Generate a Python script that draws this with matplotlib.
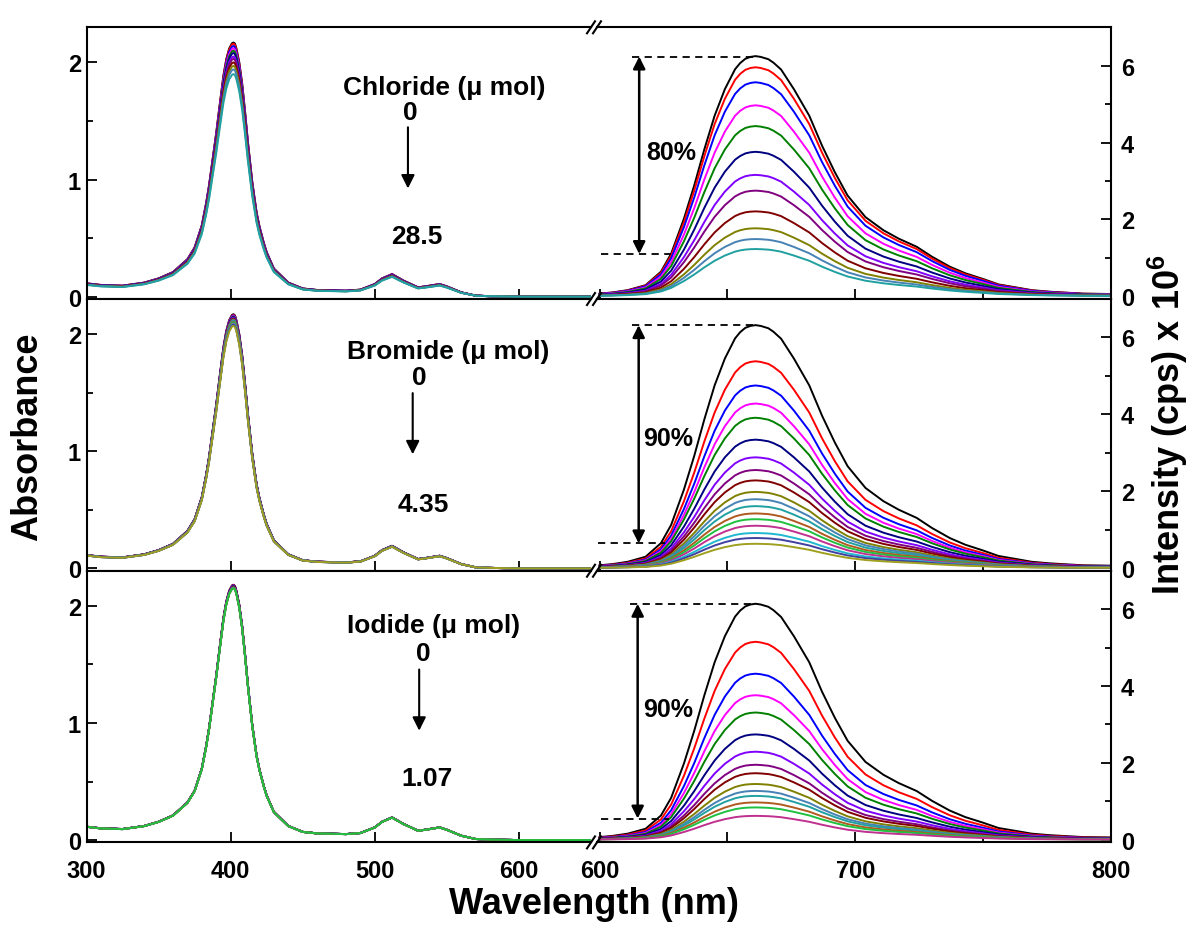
import matplotlib
matplotlib.use('Agg')
import matplotlib.pyplot as plt
import numpy as np
from matplotlib.ticker import MultipleLocator
from matplotlib.lines import Line2D

plt.rcParams['font.family'] = 'Liberation Sans'
plt.rcParams['font.weight'] = 'bold'
plt.rcParams['mathtext.fontset'] = 'custom'
plt.rcParams['mathtext.bf'] = 'Liberation Sans:bold'
plt.rcParams['mathtext.rm'] = 'Liberation Sans:bold'

# Absorptionsspektrum (Referenzkurve)
abs_wl = [300, 310, 325, 340, 350, 360, 370, 375, 380, 383, 385, 388, 390, 392, 395,
          397, 399, 401, 402, 403, 404, 406, 408, 410, 412, 415, 418, 420, 423, 425,
          430, 440, 450, 460, 480, 490, 500, 505, 512, 520, 530, 535, 545, 550, 560,
          570, 580, 600, 650]
abs_ref = [0.114, 0.10, 0.094, 0.12, 0.156, 0.21, 0.32, 0.42, 0.61, 0.80, 0.95, 1.22, 1.40, 1.60, 1.89,
           2.03, 2.12, 2.165, 2.17, 2.16, 2.12, 2.00, 1.82, 1.58, 1.32, 0.98, 0.72, 0.60, 0.46, 0.38,
           0.24, 0.12, 0.07, 0.057, 0.051, 0.06, 0.108, 0.156, 0.193, 0.137, 0.08, 0.088, 0.108, 0.088, 0.037,
           0.009, 0.004, 0.0, 0.0]

# Emissionsspektrum (schwarze Kurve Chlorid)
em_wl = [600, 605, 611, 618, 624, 628, 633, 637, 641, 645, 649, 653, 655, 657, 659, 661,
         663, 666, 668, 671, 676, 682, 687, 692, 697, 704, 711, 717, 724, 730, 737, 743,
         750, 756, 763, 769, 776, 789, 800]
em_ref = [0.07, 0.10, 0.16, 0.29, 0.64, 1.11, 2.02, 2.88, 3.83, 4.70, 5.39, 5.91, 6.07, 6.18, 6.23, 6.25,
          6.23, 6.17, 6.08, 5.90, 5.39, 4.70, 3.92, 3.23, 2.62, 2.06, 1.72, 1.50, 1.29, 1.03, 0.77, 0.60,
          0.45, 0.31, 0.23, 0.16, 0.12, 0.07, 0.06]

# Soret-Maxima je Zugabe
cl_abs = [2.17, 2.16, 2.14, 2.12, 2.10, 2.08, 2.05, 2.03, 2.00, 1.97, 1.94, 1.90]
br_abs = [2.17, 2.165, 2.16, 2.155, 2.15, 2.145, 2.14, 2.135, 2.13, 2.125, 2.12, 2.11,
          2.105, 2.10, 2.09, 2.085, 2.08, 2.07]
io_abs = [2.18, 2.178, 2.175, 2.172, 2.17, 2.168, 2.165, 2.162, 2.16, 2.158, 2.155, 2.153, 2.15, 2.15]

# Emissionsmaxima je Zugabe (x 10^6 cps)
cl_em = [6.25, 5.96, 5.57, 4.97, 4.43, 3.76, 3.16, 2.75, 2.21, 1.77, 1.49, 1.23]
br_em = [6.32, 5.38, 4.75, 4.28, 3.91, 3.34, 2.88, 2.55, 2.28, 1.98, 1.79, 1.61,
         1.42, 1.27, 1.10, 0.91, 0.78, 0.63]
io_em = [6.14, 5.15, 4.32, 3.76, 3.31, 2.74, 2.29, 1.95, 1.73, 1.45, 1.27, 1.14, 0.97, 0.84, 0.62]

farben = ['#000000', '#FF0000', '#0000FF', '#FF00FF', '#008000', '#000080', '#8000FF',
          '#800080', '#800000', '#808000', '#4682B4', '#20A0A0', '#B05A20', '#20C040',
          '#C0308F', '#20B8D0', '#4040A0', '#A0A020']

titel = ['Chloride (\u03bc mol)', 'Bromide (\u03bc mol)', 'Iodide (\u03bc mol)']
endwert = ['28.5', '4.35', '1.07']
prozent = ['80%', '90%', '90%']

W, H = 1189, 928
fig = plt.figure(figsize=(W / 100, H / 100), dpi=100)


def rect(x0, y0, x1, y1):
    return [x0 / W, 1 - y1 / H, (x1 - x0) / W, (y1 - y0) / H]


def plotPanel(i, top, abs_peaks, em_peaks, tx, zx, px, ex, pfeil, bottom):
    h = 271.7
    axL = fig.add_axes(rect(86.5, top, 591, top + h))
    axR = fig.add_axes(rect(597, top, 1111, top + h))

    # Absorption
    base = np.array(abs_ref)
    for k, p in enumerate(abs_peaks):
        axL.plot(abs_wl, base * p / 2.17, color=farben[k], lw=1.4)
    axL.set_xlim(300, 650)
    axL.set_ylim(-0.02, 2.30)
    axL.xaxis.set_major_locator(MultipleLocator(100))
    axL.yaxis.set_major_locator(MultipleLocator(1))
    axL.yaxis.set_minor_locator(MultipleLocator(0.5))
    axL.spines['right'].set_visible(False)
    axL.tick_params(which='both', direction='in', top=False, right=False, width=1.3,
                    labelsize=17, labelbottom=bottom)
    axL.tick_params(axis='x', length=7, pad=12)
    axL.tick_params(axis='y', which='major', length=7, pad=4)
    axL.tick_params(axis='y', which='minor', length=4)

    axL.text(tx[0], tx[1], titel[i], fontsize=19, fontweight='bold', ha='center', va='center')
    axL.text(zx[0], zx[1], '0', fontsize=19, fontweight='bold', ha='center', va='center')
    axL.annotate('', xy=(px[0], px[2]), xytext=(px[0], px[1]),
                 arrowprops=dict(arrowstyle='-|>', color='black', lw=1.5, mutation_scale=20))
    axL.text(ex[0], ex[1], endwert[i], fontsize=19, fontweight='bold', ha='center', va='center')

    # Emission
    shape = np.array(em_ref) / max(em_ref)
    for k, p in enumerate(em_peaks):
        axR.plot(em_wl, shape * p, color=farben[k], lw=1.4)
    axR.set_xlim(599, 800)
    axR.set_ylim(-0.07, 7.0)
    axR.xaxis.set_major_locator(MultipleLocator(100))
    axR.xaxis.set_minor_locator(MultipleLocator(50))
    axR.yaxis.set_major_locator(MultipleLocator(2))
    axR.yaxis.set_minor_locator(MultipleLocator(1))
    axR.yaxis.tick_right()
    axR.spines['left'].set_visible(False)
    axR.tick_params(which='both', direction='in', top=False, left=False, width=1.3,
                    labelsize=17, labelbottom=bottom)
    axR.tick_params(axis='x', which='both', length=7, pad=12)
    axR.tick_params(axis='y', which='major', length=7, pad=7)
    axR.tick_params(axis='y', which='minor', length=4)

    # Loeschung markieren
    xa, y_hi, y_lo, d_hi, d_lo, xp, yp = pfeil
    axR.plot(d_hi, [y_hi, y_hi], color='black', lw=1.3, ls=(0, (4, 3)), clip_on=False)
    axR.plot(d_lo, [y_lo, y_lo], color='black', lw=1.3, ls=(0, (4, 3)), clip_on=False)
    axR.annotate('', xy=(xa, y_lo), xytext=(xa, y_hi),
                 arrowprops=dict(arrowstyle='<|-|>', color='black', lw=1.8,
                                 mutation_scale=18, shrinkA=0, shrinkB=0))
    axR.text(xp, yp, prozent[i], fontsize=18, fontweight='bold', ha='left', va='center')

    for ax in (axL, axR):
        for s in ax.spines.values():
            s.set_linewidth(1.5)
    return axL, axR


plotPanel(0, 28.3, cl_abs, cl_em, (548, 1.79), (524.5, 1.58), (523, 1.47, 0.90), (529.4, 0.52),
          (615.5, 6.24, 1.10, [612.5, 661], [600.5, 628], 618.2, 3.75), False)
plotPanel(1, 300.0, br_abs, br_em, (551, 1.86), (531, 1.63), (526.3, 1.52, 0.95), (533.6, 0.55),
          (615.3, 6.32, 0.64, [612.5, 661], [599.5, 625.6], 617.1, 3.39), False)
plotPanel(2, 571.7, io_abs, io_em, (541, 1.84), (533.6, 1.60), (530.8, 1.48, 0.91), (536.4, 0.53),
          (614.9, 6.14, 0.55, [612, 661], [600.5, 627], 617.1, 3.39), True)

# Achsenbruch-Markierungen
for yb in [28.3, 300.0, 571.7, 843.4]:
    for xb in [591, 597]:
        fig.add_artist(Line2D([(xb - 4) / W, (xb + 4) / W], [1 - (yb + 6) / H, 1 - (yb - 6) / H],
                              color='black', lw=1.5, transform=fig.transFigure))

fig.text(28 / W, 1 - 437 / H, 'Absorbance', rotation=90, fontsize=26, fontweight='bold',
         ha='center', va='center')
fig.text(594 / W, 1 - 905 / H, 'Wavelength (nm)', fontsize=26, fontweight='bold',
         ha='center', va='center')
fig.text(1168 / W, 1 - 425 / H, r'Intensity (cps) x 10$^{\mathbf{6}}$', rotation=90,
         fontsize=26, fontweight='bold', ha='center', va='center')

plt.savefig('out.png', dpi=100)
